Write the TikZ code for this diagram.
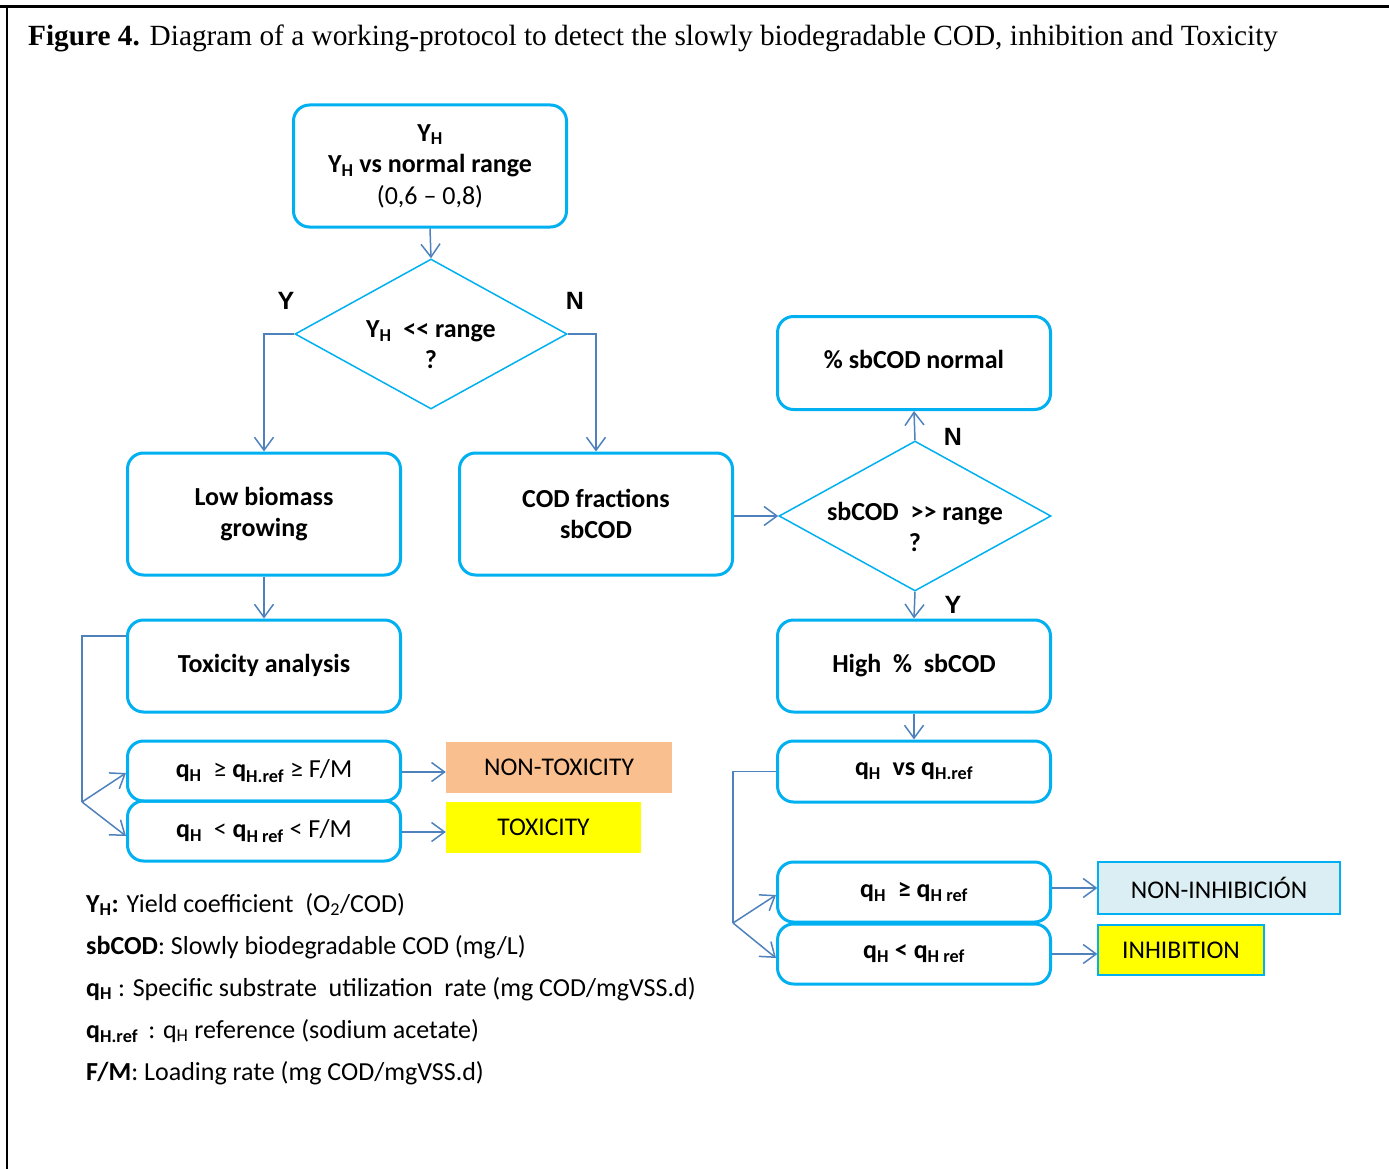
\documentclass[tikz,border=0pt]{standalone}
\usepackage{fontspec}
\setmainfont{Carlito}
\newfontfamily\timesf{Liberation Serif}
\newfontfamily\arialf{Liberation Sans}
\usetikzlibrary{shapes.geometric,arrows.meta}
\definecolor{boxc}{RGB}{0,176,240}
\definecolor{linec}{RGB}{79,129,189}
\definecolor{peach}{RGB}{250,191,143}
\definecolor{lblue}{RGB}{218,238,243}
\definecolor{yel}{RGB}{255,255,0}
\newcommand{\sbs}[1]{\textsubscript{#1}}
\begin{document}
\begin{tikzpicture}[x=1pt,y=-1pt,
  bx/.style={draw=boxc, line width=3pt, rounded corners=16pt, minimum width=273pt,
    minimum height=122pt, font=\fontsize{26}{31.5}\selectfont\bfseries, align=center, inner sep=0pt},
  qbx/.style={bx, minimum height=60pt, font=\fontsize{26}{31}\selectfont},
  dia/.style={diamond, draw=boxc, line width=1.5pt, minimum width=272pt, minimum height=150pt, inner sep=0pt},
  dlab/.style={font=\fontsize{26}{31}\selectfont\bfseries, align=center, yshift=-11pt},
  res/.style={minimum height=51pt, inner sep=0pt, font=\fontsize{25.5}{28}\selectfont},
  yn/.style={font=\arialf\bfseries\fontsize{25}{28}\selectfont, inner sep=0pt},
  leg/.style={anchor=base west, inner sep=0pt, font=\fontsize{26}{30}\selectfont},
  conn/.style={draw=linec, line width=1.5pt, -{Straight Barb[length=13pt,width=19pt]}},
  plain/.style={draw=linec, line width=1.5pt}
]
\useasboundingbox (0,0) rectangle (1389,1169);
\draw[line width=3pt] (0,7) -- (1389,7);
\draw[line width=2pt] (7,6) -- (7,1169);

\node[anchor=base west, inner sep=0pt, font=\timesf\fontsize{29.3}{34}\selectfont] (title) at (28,46)
  {\textbf{Figure 4.} Diagram of a working-protocol to detect the slowly biodegradable COD, inhibition and Toxicity};

% left column
\node[bx] (top) at (430,166) {Y\sbs{H}\\Y\sbs{H} vs normal range\\\mdseries(0,6 -- 0,8)};
\node[dia, label={[dlab]center:Y\sbs{H}\ \ {<}{<} range\\?}] (d1) at (431,334) {};
\node[bx] (low) at (264,514) {Low biomass\\growing};
\node[bx] (cod) at (596,514) {COD fractions\\sbCOD};
\node[bx, minimum height=92pt] (tox) at (264,666) {\raisebox{6pt}{Toxicity analysis}};
\node[qbx] (q1) at (264,771) {\textbf{q\sbs{H}} \ ≥ \textbf{q\sbs{H.ref}} ≥ F/M};
\node[qbx] (q2) at (264,831) {\textbf{q\sbs{H}} \ < \textbf{q\sbs{H ref}} < F/M};
\node[res, fill=peach, minimum width=226pt] (ntox) at (559,767.5) {NON-TOXICITY};
\node[res, fill=yel, minimum width=195pt] (toxr) at (543.5,827.5) {TOXICITY};

% right column
\node[bx, minimum height=93pt] (norm) at (914,363) {\raisebox{8pt}{\% sbCOD normal}};
\node[dia, label={[dlab]center:sbCOD\ \ {>}{>} range\\?}] (d2) at (915,516) {};
\node[bx, minimum height=92pt] (high) at (914,666) {\raisebox{6pt}{High\ \ \%\ \ sbCOD}};
\node[bx, minimum height=61pt] (qvs) at (914,771.5) {q\sbs{H}\ \ vs q\sbs{H.ref}};
\node[bx, minimum height=60pt] (qge) at (914,892) {q\sbs{H}\ \ ≥ q\sbs{H ref}};
\node[bx, minimum height=60pt] (qlt) at (914,954) {q\sbs{H} < q\sbs{H ref}};
\node[res, fill=lblue, draw=boxc, line width=1.2pt, minimum width=242pt, minimum height=52pt] (ninh) at (1219,888) {NON-INHIBICIÓN};
\node[res, fill=yel, draw=boxc, line width=1.2pt, minimum width=166pt, minimum height=50pt] (inh) at (1181,950) {INHIBITION};

% Y / N labels
\node[yn] (y1) at (286,301) {Y};
\node[yn] (n1) at (575,301) {N};
\node[yn] (n2) at (953,437) {N};
\node[yn] (y2) at (953,605) {Y};

% connectors
\draw[conn] (top.south) -- (d1.north);
\draw[conn] (d1.west) -| (low.north);
\draw[conn] (d1.east) -| (cod.north);
\draw[conn] (low) -- (tox);
\draw[conn] (cod.east |- d2.west) -- (d2.west);
\draw[conn] (d2.north) -- (norm.south);
\draw[conn] (d2.south) -- (high.north);
\draw[conn] (high) -- (qvs);

\coordinate (tb) at (82,802);
\draw[plain] ([yshift=30pt]tox.west) -| (tb);
\draw[conn] (tb) -- ([yshift=-2pt]q1.west);
\draw[conn] (tb) -- ([yshift=-5pt]q2.west);
\draw[conn] ([yshift=-1pt]q1.east) -- ([yshift=-1pt]q1.east -| ntox.west);
\draw[conn] ([yshift=-1pt]q2.east) -- ([yshift=-1pt]q2.east -| toxr.west);

\coordinate (rb) at (733,923);
\draw[plain] (qvs.west) -| (rb);
\draw[conn] (rb) -- ([yshift=-3pt]qge.west);
\draw[conn] (rb) -- ([yshift=-4pt]qlt.west);
\draw[conn] (ninh.west -| qge.east) -- (ninh.west);
\draw[conn] (qlt.east) -- (qlt.east -| inh.west);

% legend
\node[leg] (l1) at (86,912) {\textbf{Y\sbs{H}:} Yield coefficient\ \ (O\sbs{2}/COD)};
\node[leg] (l2) at (86,954) {\textbf{sbCOD}: Slowly biodegradable COD (mg/L)};
\node[leg] (l3) at (86,996) {\textbf{q\sbs{H}} : Specific substrate\ \ utilization\ \ rate (mg COD/mgVSS.d)};
\node[leg] (l4) at (86,1038) {\textbf{q\sbs{H.ref}} \,: q\sbs{H} reference (sodium acetate)};
\node[leg] (l5) at (86,1080) {\textbf{F/M}: Loading rate (mg COD/mgVSS.d)};
\end{tikzpicture}
\end{document}
